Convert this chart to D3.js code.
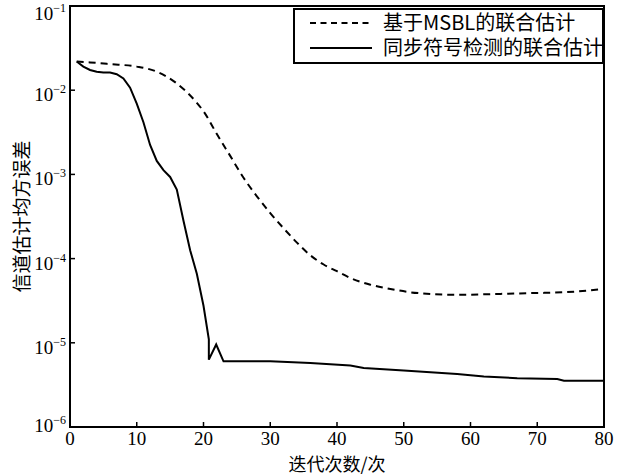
<!DOCTYPE html>
<html>
<head>
<meta charset="utf-8">
<script src="https://cdn.jsdelivr.net/npm/d3@7.9.0/dist/d3.min.js"></script>
<style>
  body { margin: 0; background: #fff; }
  svg { display: block; }
  .num { font-family: 'Liberation Serif', 'DejaVu Serif', serif; }
</style>
</head>
<body>
<svg id="chart" width="618" height="475"></svg>
<script>
// Series: [iteration, MSE]
const seriesNames = ['基于MSBL的联合估计', '同步符号检测的联合估计'];

const msblIter = [1, 3, 6, 10, 13, 16, 19, 20, 22, 24, 26, 28, 30, 32, 34, 36, 38, 40, 42, 45, 48, 51, 54, 58, 64, 69, 74, 80];
const msblLog = [-1.66, -1.67, -1.69, -1.72, -1.78, -1.92, -2.15, -2.25, -2.52, -2.78, -3.04, -3.26, -3.46, -3.64, -3.81, -3.96, -4.07, -4.15, -4.23, -4.31, -4.36, -4.40, -4.42, -4.43, -4.42, -4.41, -4.40, -4.36];

const syncIter = [1, 2, 3, 4, 5, 6, 7, 8, 9, 10, 11, 12, 13, 14, 15, 16, 17, 18, 19, 20, 20.8, 20.8, 21.9, 23, 30, 36, 42, 44, 50, 58, 62, 67, 73, 74, 80];
const syncLog = [-1.66, -1.72, -1.76, -1.78, -1.79, -1.79, -1.81, -1.86, -1.97, -2.16, -2.38, -2.65, -2.84, -2.95, -3.03, -3.18, -3.55, -3.90, -4.18, -4.56, -4.96, -5.20, -5.02, -5.22, -5.22, -5.24, -5.27, -5.30, -5.33, -5.37, -5.40, -5.42, -5.43, -5.45, -5.45];

const xTicks = [0, 10, 20, 30, 40, 50, 60, 70, 80];
const yExponents = [-1, -2, -3, -4, -5, -6];

const toPoints = (xs, logs) => xs.map((x, i) => [x, Math.pow(10, logs[i])]);
const msbl = toPoints(msblIter, msblLog);
const sync = toPoints(syncIter, syncLog);

const cjk = "'Noto Sans CJK SC', sans-serif";

const margin = { top: 6, right: 14, bottom: 48, left: 70 };
const width = 618, height = 475;

const svg = d3.select('#chart');

const x = d3.scaleLinear().domain([0, 80]).range([margin.left, width - margin.right]);
const y = d3.scaleLog().domain([1e-6, 1e-1]).range([height - margin.bottom, margin.top]);

// curves
const lineSmooth = d3.line().x(d => x(d[0])).y(d => y(d[1])).curve(d3.curveMonotoneX);
const lineSharp = d3.line().x(d => x(d[0])).y(d => y(d[1]));

svg.append('path')
  .attr('d', lineSmooth(msbl))
  .attr('fill', 'none')
  .attr('stroke', '#000')
  .attr('stroke-width', 2)
  .attr('stroke-dasharray', '7,5');

svg.append('path')
  .attr('d', lineSharp(sync))
  .attr('fill', 'none')
  .attr('stroke', '#000')
  .attr('stroke-width', 2);

// frame
svg.append('rect')
  .attr('x', x(0)).attr('y', y(1e-1))
  .attr('width', x(80) - x(0)).attr('height', y(1e-6) - y(1e-1))
  .attr('fill', 'none').attr('stroke', '#000').attr('stroke-width', 2);

// x ticks (inward) and labels
const xg = svg.append('g');
xTicks.forEach(t => {
  xg.append('line')
    .attr('x1', x(t)).attr('x2', x(t))
    .attr('y1', y(1e-6)).attr('y2', y(1e-6) - 5)
    .attr('stroke', '#000').attr('stroke-width', 1.5);
  xg.append('text')
    .attr('class', 'num')
    .style('font-size', '19px')
    .attr('x', x(t)).attr('y', y(1e-6) + 18)
    .attr('text-anchor', 'middle')
    .text(t);
});

// y ticks (inward) and labels 10^n
const yg = svg.append('g');
yExponents.forEach((e, i) => {
  const v = Math.pow(10, e);
  yg.append('line')
    .attr('x1', x(0)).attr('x2', x(0) + 5)
    .attr('y1', y(v)).attr('y2', y(v))
    .attr('stroke', '#000').attr('stroke-width', 1.5);
  const dy = i === 0 ? 14 : (i === yExponents.length - 1 ? 5 : 11);
  const txt = yg.append('text')
    .attr('class', 'num')
    .style('font-size', '19px')
    .attr('x', x(0) - 4).attr('y', y(v) + dy)
    .attr('text-anchor', 'end');
  txt.append('tspan').text('10');
  txt.append('tspan')
    .attr('dy', -8)
    .style('font-size', '12px')
    .text('\u2212' + Math.abs(e));
});

// axis titles
svg.append('text')
  .style('font-family', cjk)
  .style('font-size', '18px')
  .attr('x', (x(0) + x(80)) / 2).attr('y', 471)
  .attr('text-anchor', 'middle')
  .text('迭代次数/次');

svg.append('text')
  .style('font-family', cjk)
  .style('font-size', '19px')
  .attr('transform', `translate(29,${(y(1e-1) + y(1e-6)) / 2}) rotate(-90)`)
  .attr('text-anchor', 'middle')
  .text('信道估计均方误差');

// legend
const lg = svg.append('g');
lg.append('rect')
  .attr('x', 294).attr('y', 9)
  .attr('width', 309).attr('height', 54)
  .attr('fill', '#fff').attr('stroke', '#000').attr('stroke-width', 2);

seriesNames.forEach((name, i) => {
  const cy = 23 + i * 25;
  lg.append('line')
    .attr('x1', 310).attr('x2', 372)
    .attr('y1', cy).attr('y2', cy)
    .attr('stroke', '#000').attr('stroke-width', 2)
    .attr('stroke-dasharray', i === 0 ? '6,4.5' : null);
  lg.append('text')
    .style('font-family', cjk)
    .style('font-size', '20px')
    .attr('x', 383).attr('y', cy + 7)
    .text(name);
});
</script>
</body>
</html>
